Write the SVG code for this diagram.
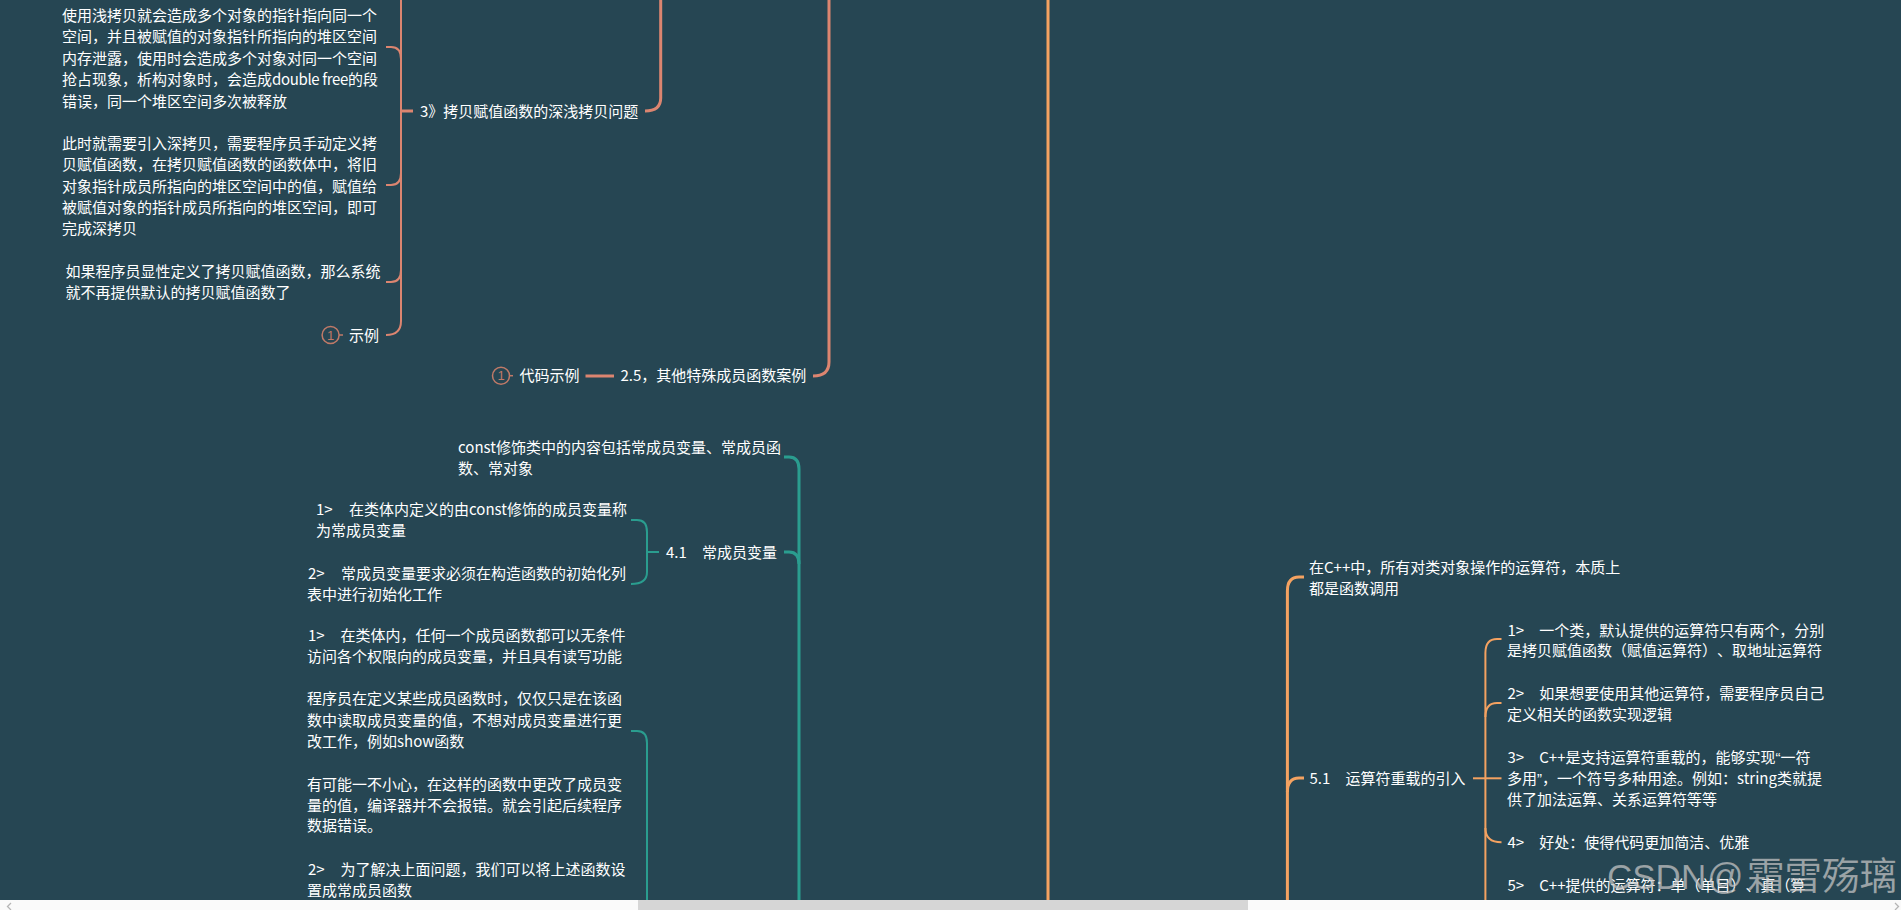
<svg xmlns="http://www.w3.org/2000/svg" width="1901" height="910" viewBox="0 0 1901 910">
<style>
text{font-family:"Noto Sans CJK SC","Microsoft YaHei",sans-serif;font-size:15px;fill:#fff;text-spacing-trim:space-all}
.c{fill:none;stroke-linecap:butt}
.sal{stroke:#dc8570}
.teal{stroke:#2a9d8f}
.org{stroke:#f4a261}
.w3{stroke-width:3}
.w2{stroke-width:2}
.ico{fill:none;stroke:#c07a68;stroke-width:1.5}
.num{fill:#c07a68;font-size:13px;font-family:"Liberation Sans",sans-serif}
.q{font-family:"Liberation Sans",sans-serif}
.lat{letter-spacing:-.35px}
.wm{fill:#c8c8c8;fill-opacity:.72;font-family:"Liberation Sans","Noto Sans CJK SC",sans-serif;stroke:#222;stroke-opacity:.12;stroke-width:.5}
</style>
<rect width="1901" height="910" fill="#264653"/>
<g id="connectors">
<path class="c sal w3" d="M829 0V362Q829 376 813 376"/>
<path class="c sal w3" d="M660.700 0V98Q660.700 111 645 111"/>
<path class="c sal w2" d="M401 0V321Q401 335 386 335"/>
<path class="c sal w2" d="M386 47H391Q401 47 401 59"/>
<path class="c sal w2" d="M386 185H391Q401 185 401 173"/>
<path class="c sal w2" d="M386 282H391Q401 282 401 270"/>
<path class="c sal w3" d="M402 111H413"/>
<path class="c sal w3" d="M585.500 376H614"/>
<path class="c teal w3" d="M784 457H789Q799 457 799 469V900"/>
<path class="c teal w3" d="M784 552H789Q799 552 799 564"/>
<path class="c teal w2" d="M631 520H637Q647 520 647 532V572Q647 584 631 584"/>
<path class="c teal w2" d="M647 552H659"/>
<path class="c teal w2" d="M631 731H637Q647 731 647 743V900"/>
<path class="c org w3" d="M1048 0V900"/>
<path class="c org w3" d="M1304 577H1299Q1287.400 577 1287.400 591V900"/>
<path class="c org w3" d="M1304 778H1299Q1287.400 778 1287.400 792"/>
<path class="c org w2" d="M1501.500 639H1497Q1485.400 639 1485.400 653V900"/>
<path class="c org w2" d="M1501.500 703H1497Q1485.400 703 1485.400 717"/>
<path class="c org w2" d="M1473 778.300H1501.500"/>
<path class="c org w2" d="M1485.400 828Q1485.400 842.300 1501.500 842.300"/>
</g>
<g id="n1"><text x="62" y="21">使用浅拷贝就会造成多个对象的指针指向同一个</text>
<text x="62" y="42">空间，并且被赋值的对象指针所指向的堆区空间</text>
<text x="62" y="63.500">内存泄露，使用时会造成多个对象对同一个空间</text>
<text x="62" y="85">抢占现象，析构对象时，会造成<tspan class="lat">double free</tspan>的段</text>
<text x="62" y="106.500">错误，同一个堆区空间多次被释放</text></g>
<g id="n2"><text x="62" y="149">此时就需要引入深拷贝，需要程序员手动定义拷</text>
<text x="62" y="170">贝赋值函数，在拷贝赋值函数的函数体中，将旧</text>
<text x="62" y="191.500">对象指针成员所指向的堆区空间中的值，赋值给</text>
<text x="62" y="213">被赋值对象的指针成员所指向的堆区空间，即可</text>
<text x="62" y="234">完成深拷贝</text></g>
<g id="n3"><text x="65.500" y="277">如果程序员显性定义了拷贝赋值函数，那么系统</text>
<text x="65.500" y="298">就不再提供默认的拷贝赋值函数了</text></g>
<g id="n4"><circle class="ico" cx="330.600" cy="335" r="8.500"/><path class="ico" d="M339 335H343"/><text class="num" x="327" y="339.500">1</text><text x="349" y="340.500">示例</text></g>
<g id="n5"><text x="420" y="116.500">3》拷贝赋值函数的深浅拷贝问题</text></g>
<g id="n6"><circle class="ico" cx="501" cy="375.700" r="8.500"/><path class="ico" d="M509.500 375.700H513"/><text class="num" x="497.500" y="380.200">1</text><text x="519.500" y="381">代码示例</text></g>
<g id="n7"><text x="620.500" y="381">2.5，其他特殊成员函数案例</text></g>
<g id="n8"><text x="458" y="453">const修饰类中的内容包括常成员变量、常成员函</text>
<text x="458" y="474">数、常对象</text></g>
<g id="n9"><text x="666" y="558">4.1</text><text x="702" y="558">常成员变量</text></g>
<g id="n10"><text x="316" y="515">1&gt;</text><text x="349" y="515">在类体内定义的由const修饰的成员变量称</text>
<text x="316" y="536">为常成员变量</text></g>
<g id="n11"><text x="308" y="579">2&gt;</text><text x="341" y="579">常成员变量要求必须在构造函数的初始化列</text>
<text x="307" y="600">表中进行初始化工作</text></g>
<g id="n12"><text x="308" y="641">1&gt;</text><text x="340.500" y="641">在类体内，任何一个成员函数都可以无条件</text>
<text x="307" y="662">访问各个权限向的成员变量，并且具有读写功能</text>
<text x="307" y="704">程序员在定义某些成员函数时，仅仅只是在该函</text>
<text x="307" y="726">数中读取成员变量的值，不想对成员变量进行更</text>
<text x="307" y="747">改工作，例如show函数</text>
<text x="307" y="789.500">有可能一不小心，在这样的函数中更改了成员变</text>
<text x="307" y="810.500">量的值，编译器并不会报错。就会引起后续程序</text>
<text x="307" y="831">数据错误。</text>
<text x="308" y="875">2&gt;</text><text x="340.500" y="875">为了解决上面问题，我们可以将上述函数设</text>
<text x="307" y="896">置成常成员函数</text></g>
<g id="n13"><text x="1309" y="573">在C++中，所有对类对象操作的运算符，本质上</text>
<text x="1309" y="594">都是函数调用</text></g>
<g id="n14"><text x="1309.400" y="784">5.1</text><text x="1345.500" y="784">运算符重载的引入</text></g>
<g id="n15"><text x="1507.400" y="635.500">1&gt;</text><text x="1539.300" y="635.500">一个类，默认提供的运算符只有两个，分别</text>
<text x="1507" y="656">是拷贝赋值函数（赋值运算符）、取地址运算符</text></g>
<g id="n16"><text x="1507.400" y="699">2&gt;</text><text x="1539.300" y="699">如果想要使用其他运算符，需要程序员自己</text>
<text x="1507" y="720">定义相关的函数实现逻辑</text></g>
<g id="n17"><text x="1507.400" y="763">3&gt;</text><text x="1539.300" y="763">C++是支持运算符重载的，能够实现<tspan class="q">“</tspan>一符</text>
<text x="1507" y="784">多用<tspan class="q">”</tspan>，一个符号多种用途。例如：string类就提</text>
<text x="1507" y="805">供了加法运算、关系运算符等等</text></g>
<g id="n18"><text x="1507.400" y="848">4&gt;</text><text x="1539.300" y="848">好处：使得代码更加简洁、优雅</text></g>
<g id="n19"><text x="1507.400" y="891">5&gt;</text><text x="1539.300" y="891">C++提供的运算符：单（单目）、真（算</text></g>
<g id="watermark"><text class="wm" style="font-size:35px" x="1607" y="889">CSDN</text><text class="wm" style="font-size:36px" x="1707" y="889">@</text><text class="wm" style="font-size:37.500px" x="1747" y="889">霜雪殇璃</text></g>
<g id="scrollbar"><rect y="900" width="1901" height="10" fill="#fafafa"/><rect x="638" y="900" width="610" height="10" fill="#d6d6d6"/>
<path d="M11 903L7.500 906.500L11 910" fill="none" stroke="#b5b5b5" stroke-width="1.300"/><path d="M1895 903L1898.500 906.500L1895 910" fill="none" stroke="#b5b5b5" stroke-width="1.300"/></g>
</svg>
